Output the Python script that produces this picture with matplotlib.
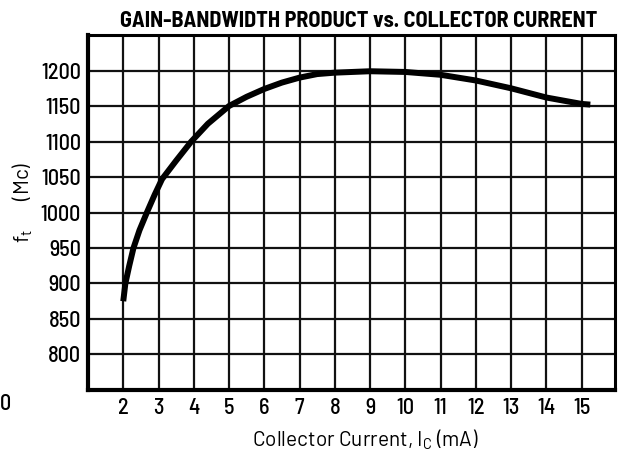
import numpy as np
import matplotlib
matplotlib.use('Agg')
import matplotlib.pyplot as plt
from matplotlib import font_manager

# values
current_ma = [2.0, 2.06, 2.17, 2.29, 2.46, 2.67, 2.89, 3.1, 3.5, 3.93, 4.4, 5.0,
              5.5, 6.0, 6.5, 7.0, 7.5, 8.0, 9.0, 10.0, 11.0, 12.0, 13.0, 14.0, 15.0, 15.25]
ft_mc = [875, 900, 925, 950, 975, 1000, 1025, 1047, 1073, 1100, 1125, 1150,
         1163, 1174, 1183, 1190, 1195, 1197, 1199, 1198, 1194, 1186, 1175, 1162, 1153, 1152]

x_ticks = list(range(2, 16))
y_ticks = list(range(800, 1201, 50))

# condensed faces for the old datasheet lettering
names = set(f.name for f in font_manager.fontManager.ttflist)
def pick(*cands):
    for c in cands:
        if c in names:
            return c
    return 'Liberation Sans'

semi = pick('Barlow Semi Condensed', 'Barlow Condensed')
wide = pick('Barlow', 'Barlow Semi Condensed')
k = 1.0 if semi != 'Liberation Sans' else 0.85

plt.rcParams['font.family'] = [semi, 'DejaVu Sans']
plt.rcParams['font.weight'] = 'medium'
plt.rcParams['mathtext.fontset'] = 'custom'
plt.rcParams['mathtext.rm'] = wide

fig = plt.figure(figsize=(6.25, 4.55), dpi=100)
ax = fig.add_axes([0.1408, 0.1429, 0.8432, 0.7801])

ax.set_xlim(1, 15.95)
ax.set_ylim(750, 1250)

# grid of the chart paper
for xv in x_ticks:
    ax.axvline(xv, color='#111111', lw=1.6, zorder=1)
for yv in y_ticks:
    ax.axhline(yv, color='#111111', lw=1.6, zorder=1)

ax.plot(current_ma, ft_mc, color='black', lw=4.3, solid_capstyle='butt',
        solid_joinstyle='round', zorder=3)

ax.set_xticks(x_ticks)
ax.set_xticklabels([str(v) for v in x_ticks], fontsize=16 * k)
ax.set_yticks(y_ticks)
ax.set_yticklabels([str(v) for v in y_ticks], fontsize=16 * k)
ax.tick_params(length=0, pad=5)
ax.tick_params(axis='x', pad=6)

for side in ['left', 'bottom']:
    ax.spines[side].set_linewidth(3)
for side in ['top', 'right']:
    ax.spines[side].set_linewidth(2.2)

ax.set_title('GAIN-BANDWIDTH PRODUCT vs. COLLECTOR CURRENT', fontsize=16 * k,
             fontweight='bold', pad=6, x=0.513)
ax.set_xlabel('Collector Current, I$_\\mathregular{C}$ (mA)', fontsize=15 * k,
              family=[wide, 'DejaVu Sans'])
ax.xaxis.set_label_coords(0.527, -0.105)
ax.set_ylabel('f$_\\mathregular{t}$       (Mc)', fontsize=15 * k,
              family=[wide, 'DejaVu Sans'])
ax.yaxis.set_label_coords(-0.1, 0.53)

fig.text(0.0, 0.113, '0', fontsize=16 * k, ha='left', va='center')

fig.savefig('out.png', dpi=100)
